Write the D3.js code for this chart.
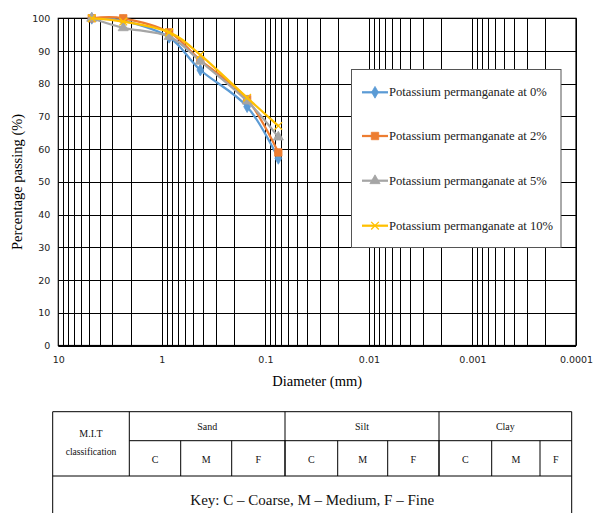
<!DOCTYPE html>
<html><head><meta charset="utf-8">
<script src="https://cdn.jsdelivr.net/npm/d3@7"></script>
<style>body{margin:0;background:#fff}svg{display:block}</style>
</head><body>
<svg id="c" width="595" height="513"></svg>
<script>
// ---- data ----
const diameters = [4.75, 2.36, 0.85, 0.425, 0.15, 0.075];
const kmno4_0  = [100, 99.3, 94.2, 84.2, 73.0, 57.2];
const kmno4_2  = [100, 100, 95.7, 87.2, 75.3, 59.0];
const kmno4_5  = [100, 97.1, 94.4, 86.9, 74.7, 63.7];
const kmno4_10 = [100, 99.0, 95.7, 88.8, 75.7, 67.1];
const seriesNames = ["Potassium permanganate at 0%","Potassium permanganate at 2%","Potassium permanganate at 5%","Potassium permanganate at 10%"];
const xTicks = [10, 1, 0.1, 0.01, 0.001, 0.0001];
const xTickLabels = ["10","1","0.1","0.01","0.001","0.0001"];
const yTicks = [0,10,20,30,40,50,60,70,80,90,100];
const groups = ["Sand","Silt","Clay"];
const subCols = ["C","M","F","C","M","F","C","M","F"];
const keyText = "Key: C \u2013 Coarse, M \u2013 Medium, F \u2013 Fine";

const svg = d3.select("#c");
const L = 58.3, R = 576, T = 18.3, B = 345.5;
const x = d3.scaleLog().domain([10, 0.0001]).range([L, R]);
const y = d3.scaleLinear().domain([0, 100]).range([B, T]);

// grid
const minor = [];
for (let e = 0; e >= -4; e--) for (let k = 1; k <= 9; k++) minor.push(k * Math.pow(10, e));
const g = svg.append("g");
g.selectAll("line.v").data(minor.filter(v => v <= 10 && v >= 0.0001)).join("line")
  .attr("x1", d => Math.round(x(d)) + 0.5).attr("x2", d => Math.round(x(d)) + 0.5)
  .attr("y1", T).attr("y2", B).attr("stroke", "#000").attr("stroke-width", 1);
g.selectAll("line.h").data(yTicks).join("line")
  .attr("x1", L).attr("x2", R)
  .attr("y1", d => Math.round(y(d)) + 0.5).attr("y2", d => Math.round(y(d)) + 0.5)
  .attr("stroke", "#000").attr("stroke-width", 1);
g.append("rect").attr("x", L).attr("y", T).attr("width", R - L).attr("height", B - T)
  .attr("fill", "none").attr("stroke", "#000").attr("stroke-width", 1.2);

// axes labels
const yAxis = d3.axisLeft(y).tickValues(yTicks).tickSize(0).tickPadding(8);
svg.append("g").attr("transform", `translate(${L},0)`).call(yAxis)
  .call(s => s.select(".domain").remove())
  .selectAll("text").attr("font-family", "DejaVu Sans").attr("font-size", 9.5).attr("fill", "#222");
const xAxis = d3.axisBottom(x).tickValues(xTicks).tickSize(0).tickPadding(11)
  .tickFormat((d, i) => xTickLabels[i]);
svg.append("g").attr("transform", `translate(0,${B})`).call(xAxis)
  .call(s => s.select(".domain").remove())
  .selectAll("text").attr("font-family", "DejaVu Sans").attr("font-size", 9.5).attr("fill", "#222");

svg.append("text").attr("x", (L + R) / 2).attr("y", 386).attr("text-anchor", "middle")
  .attr("font-family", "Liberation Serif").attr("font-size", 14.5).text("Diameter (mm)");
svg.append("text").attr("transform", `translate(22,${(T + B) / 2}) rotate(-90)`).attr("text-anchor", "middle")
  .attr("font-family", "Liberation Serif").attr("font-size", 14.5).text("Percentage passing (%)");

// series
const colors = ["#5B9BD5", "#ED7D31", "#A5A5A5", "#FFC000"];
const symbols = [d3.symbolDiamond, d3.symbolSquare, d3.symbolTriangle, d3.symbolTimes];
const symSizes = [40, 55, 45, 40];
const allSeries = [kmno4_0, kmno4_2, kmno4_5, kmno4_10];
const line = d3.line().x(d => x(d[0])).y(d => y(d[1])).curve(d3.curveCardinal.tension(0));
allSeries.forEach((vals, i) => {
  const pts = diameters.map((d, j) => [d, vals[j]]);
  svg.append("path").datum(pts).attr("d", line).attr("fill", "none")
    .attr("stroke", colors[i]).attr("stroke-width", 2.25);
  svg.selectAll(null).data(pts).join("path")
    .attr("transform", d => `translate(${x(d[0])},${y(d[1])})`)
    .attr("d", d3.symbol(symbols[i], symSizes[i]))
    .attr("fill", i === 3 ? "none" : colors[i])
    .attr("stroke", colors[i]).attr("stroke-width", i === 3 ? 1.3 : 0.8);
});

// legend
const lg = svg.append("g");
lg.append("rect").attr("x", 351.5).attr("y", 69.5).attr("width", 209.5).attr("height", 178)
  .attr("fill", "#fff").attr("stroke", "#555").attr("stroke-width", 1);
const legY = [92.3, 136, 180.7, 225.7];
seriesNames.forEach((n, i) => {
  lg.append("line").attr("x1", 362).attr("x2", 388).attr("y1", legY[i]).attr("y2", legY[i])
    .attr("stroke", colors[i]).attr("stroke-width", 2.25);
  lg.append("path").attr("transform", `translate(375,${legY[i]})`)
    .attr("d", d3.symbol(symbols[i], symSizes[i]))
    .attr("fill", i === 3 ? "none" : colors[i]).attr("stroke", colors[i]).attr("stroke-width", i === 3 ? 1.3 : 0.8);
  lg.append("text").attr("x", 389).attr("y", legY[i] + 4).attr("font-family", "Liberation Serif")
    .attr("font-size", 12.6).attr("fill", "#222").text(n);
});

// classification table
const tb = svg.append("g").attr("stroke", "#000").attr("stroke-width", 1);
const tL = 52.7, tR = 571.7, tT = 411.7, r1 = 440.7, r2 = 476, tBot = 520;
const c1 = 129.3;
const colX = [129.3, 180.7, 231.7, 285, 337.7, 387.7, 439, 491.7, 540, 571.7];
const groupX = [129.3, 285, 439, 571.7];
tb.append("line").attr("x1", tL).attr("x2", tR).attr("y1", tT).attr("y2", tT);
tb.append("line").attr("x1", c1).attr("x2", tR).attr("y1", r1).attr("y2", r1);
tb.append("line").attr("x1", tL).attr("x2", tR).attr("y1", r2).attr("y2", r2);
tb.append("line").attr("x1", tL).attr("x2", tL).attr("y1", tT).attr("y2", tBot);
tb.append("line").attr("x1", tR).attr("x2", tR).attr("y1", tT).attr("y2", tBot);
tb.selectAll(null).data(groupX.slice(0, 3)).join("line")
  .attr("x1", d => d).attr("x2", d => d).attr("y1", tT).attr("y2", r2);
tb.selectAll(null).data(colX.slice(1, 9)).join("line")
  .attr("x1", d => d).attr("x2", d => d).attr("y1", r1).attr("y2", r2);

const tt = svg.append("g").attr("font-family", "Liberation Serif").attr("fill", "#111").attr("text-anchor", "middle");
tt.append("text").attr("x", (tL + c1) / 2).attr("y", 437).attr("font-size", 10).text("M.I.T");
tt.append("text").attr("x", (tL + c1) / 2).attr("y", 455).attr("font-size", 9.6).text("classification");
groups.forEach((gname, i) => {
  tt.append("text").attr("x", (groupX[i] + groupX[i + 1]) / 2).attr("y", 430).attr("font-size", 10).text(gname);
});
subCols.forEach((s, i) => {
  tt.append("text").attr("x", (colX[i] + colX[i + 1]) / 2).attr("y", 462.5).attr("font-size", 10).text(s);
});
tt.append("text").attr("x", (tL + tR) / 2).attr("y", 505).attr("font-size", 15).text(keyText);
</script>
</body></html>
